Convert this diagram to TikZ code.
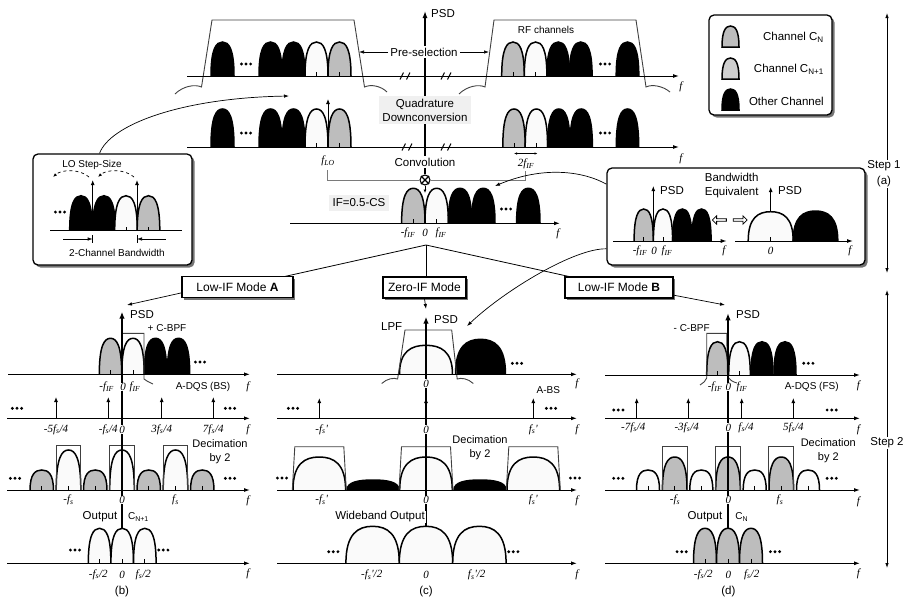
\documentclass[tikz,border=0pt]{standalone}
\usepackage{fontspec}
\setmainfont{Liberation Sans}
\newfontfamily\tnr{Liberation Serif}
\usepackage{tikz}
\usetikzlibrary{arrows.meta,shadows,shapes.arrows}
\definecolor{chgray}{HTML}{BDBDBD}
\definecolor{chpale}{HTML}{FAFAFA}
\definecolor{chlight}{HTML}{CFCFCF}
\definecolor{tagbg}{HTML}{F0F0F0}
\definecolor{midgray}{HTML}{7A7A7A}
\newcommand{\fv}[2]{{\tnr\itshape #1\textsubscript{#2}}}
\newcommand{\lobe}[5]{\draw[lobeline,fill=#5] (#1-#3,#2) .. controls (#1-#3,#2-0.8*#4) and (#1-0.55*#3,#2-#4) .. (#1,#2-#4) .. controls (#1+0.55*#3,#2-#4) and (#1+#3,#2-0.8*#4) .. (#1+#3,#2);}
\newcommand{\tlobe}[5]{\lobe{#1}{#2}{#3}{#4}{#5}\draw[line width=0.7pt] (#1,#2) -- (#1,#2-4);}
\newcommand{\dotz}[2]{\foreach \k in {-4.6,0,4.6} \fill (#1+\k,#2) circle (1.6);}
\newcommand{\brk}[2]{\draw[line width=1pt] (#1-5,#2+3.5) -- (#1-1.5,#2-3.5) (#1+1.5,#2+3.5) -- (#1+5,#2-3.5);}
\newcommand{\legicon}[3]{\draw[lobeline,fill=#3] (#1-8.5,#2) .. controls (#1-8.5,#2-16) and (#1-5,#2-21) .. (#1,#2-21) .. controls (#1+5,#2-21) and (#1+8.5,#2-16) .. (#1+8.5,#2) -- cycle;}

\begin{document}
\begin{tikzpicture}[x=1pt,y=-1pt,
  lobeline/.style={line width=1.5pt},
  ax/.style={line width=1pt,-{Latex[length=6pt,width=4pt]}},
  imp/.style={line width=1pt,-{Latex[length=5pt,width=4pt]}},
  zaxis/.style={line width=1.8pt,-{Latex[length=7pt,width=5.5pt]}},
  arr/.style={line width=0.7pt,-{Latex[length=5pt,width=3.5pt]}},
  twoway/.style={line width=0.8pt,{Latex[length=5pt,width=3.5pt]}-{Latex[length=5pt,width=3.5pt]}},
  filt/.style={line width=0.9pt,draw=black!75},
  lab/.style={font=\fontsize{11.5}{14}\selectfont,inner sep=1pt},
  slab/.style={font=\fontsize{10}{12}\selectfont,inner sep=1pt},
  flab/.style={font=\tnr\itshape\fontsize{11}{12}\selectfont,inner sep=0.5pt},
  modebox/.style={draw,line width=1.6pt,fill=white,minimum height=21pt,inner sep=0pt,
    font=\fontsize{12}{14}\selectfont,drop shadow={shadow xshift=2pt,shadow yshift=-2pt,fill=black!55,opacity=1}},
  panelbox/.style={draw,line width=1.3pt,rounded corners=5pt,fill=white,
    drop shadow={shadow xshift=2.5pt,shadow yshift=-2.5pt,fill=black!55,opacity=1}},
  hollow/.style={single arrow,draw,line width=0.8pt,minimum height=14pt,minimum width=8.5pt,
    single arrow head extend=2pt,inner sep=0.5pt}
]
\useasboundingbox (0,0) rectangle (910,600);

% legend
\node[panelbox,minimum width=123pt,minimum height=100pt] (legend) at (770.5,65) {};
\legicon{730.5}{47}{chgray}
\legicon{730.5}{79}{chlight}
\legicon{730.5}{110}{black}
\node[lab,anchor=east] (legcn) at (825,37) {Channel C\textsubscript{N}};
\node[lab,anchor=east] (legcn1) at (825,69) {Channel C\textsubscript{N+1}};
\node[lab,anchor=east] (legoth) at (825,101) {Other Channel};

% step arrows
\coordinate (s1a) at (887,13); \coordinate (s1b) at (887,273);
\coordinate (s2a) at (887,290); \coordinate (s2b) at (887,568);
\draw[twoway] (s1a) -- (s1b);
\draw[twoway] (s2a) -- (s2b);
\node[lab,fill=white,align=center,font=\fontsize{11.5}{16}\selectfont] (step1) at (884,174) {Step 1\\(a)};
\node[lab,fill=white] (step2) at (887,443) {Step 2};

% RF spectrum with pre-selection
\foreach \c in {222.5,270.5,293.5} {\lobe{\c}{76}{11.5}{34}{black}}
\tlobe{316.5}{76}{11.5}{34}{chpale}
\tlobe{339.5}{76}{11.5}{34}{chgray}
\tlobe{513}{76}{11.3}{34}{chgray}
\tlobe{535.6}{76}{11.3}{34}{chpale}
\foreach \c in {558.2,580.8,627.5} {\lobe{\c}{76}{11.3}{34}{black}}
\dotz{246}{64} \dotz{605}{64}
\draw[filt] (175,94) .. controls (183,86) and (195,84) .. (201.5,87) -- (212,20) -- (354,20) -- (364.5,87) .. controls (371,84) and (381,86) .. (387,92);
\draw[filt] (459,94) .. controls (467,86) and (479,84) .. (485,87) -- (494,20) -- (636,20) -- (646,87) .. controls (652,84) and (663,86) .. (670,92);
\draw[ax] (187,76) -- (679,76);
\brk{405}{76} \brk{446}{76}

% down-converted spectrum
\foreach \c in {222.5,270.5,293.5} {\lobe{\c}{147}{11.5}{38}{black}}
\tlobe{316.5}{147}{11.5}{38}{chpale}
\tlobe{339.5}{147}{11.5}{38}{chgray}
\tlobe{514}{147}{11.2}{38}{chgray}
\tlobe{536.4}{147}{11.2}{38}{chpale}
\foreach \c in {558.8,581.2,627.5} {\lobe{\c}{147}{11.2}{38}{black}}
\dotz{246}{133} \dotz{605}{133}
\draw[ax] (187,147) -- (679,147);
\brk{407}{147} \brk{446}{147}
\coordinate (lotop) at (328,99);
\draw[imp,line width=0.8pt] (328,147) -- (lotop);

% centre line and convolution
\node[circle,draw,line width=1.1pt,fill=white,minimum size=10pt,inner sep=0pt] (conv) at (425,180) {};
\draw[line width=1.1pt] (conv.45) -- (conv.225) (conv.135) -- (conv.315);
\coordinate (psdtop) at (425,11);
\draw[line width=1.3pt,-{Latex[length=7pt,width=5pt]}] (conv) -- (psdtop);
\draw[midgray,line width=0.8pt] (327.5,170) -- (327.5,180) -- (conv.west) (conv.east) -- (525.7,180) -- (525.7,171);
\coordinate (ifin) at (425,193);
\draw[line width=0.8pt,-{Latex[length=3.5pt,width=3pt]}] (conv) -- (ifin);
\node[lab,anchor=west] (psdrf) at (430,14) {PSD};
\node[lab,fill=white,inner sep=2pt] (presel) at (424,52) {Pre-selection};
\coordinate (presl) at (359,52); \coordinate (presr) at (489,52);
\draw[arr] (presel) -- (presl);
\draw[arr] (presel) -- (presr);
\node[slab] (rfch) at (546,30) {RF channels};
\node[flab] (frf) at (681,87) {f};
\node[lab,fill=tagbg,align=center,inner sep=3pt] (quad) at (425,110) {Quadrature\\Downconversion};
\node[lab,fill=white,inner sep=1.5pt] (convl) at (425,162) {Convolution};
\node[flab] (flo) at (328,161) {\fv{f}{LO}};
\node[flab] (f2if) at (526,164) {2\fv{f}{IF}};
\coordinate (dl) at (514,153.5); \coordinate (dr) at (537.5,153.5);
\draw[line width=0.6pt,{Latex[length=3pt,width=2.5pt]}-{Latex[length=3pt,width=2.5pt]}] (dl) -- (dr);
\node[flab] (fdc) at (681,159) {f};

% IF spectrum
\tlobe{413.3}{223.3}{11.7}{35}{chgray}
\tlobe{436.7}{223.3}{11.7}{35}{chpale}
\foreach \c in {460,483.3,528.3} {\lobe{\c}{223.3}{11.7}{35}{black}}
\dotz{506}{209}
\draw[ax] (290,223.3) -- (560,223.3);
\node[flab] (ifm) at (408,233) {-\fv{f}{IF}};
\node[flab] (if0) at (425,233) {0};
\node[flab] (ifp) at (441,233) {\fv{f}{IF}};
\node[flab] (fif) at (558,234) {f};
\node[lab,fill=tagbg,inner sep=4pt] (ifcs) at (359,203) {IF=0.5-CS};

% LO step-size box
\node[panelbox,minimum width=159pt,minimum height=111pt] (lobox) at (112.5,209.5) {};
\node[slab] (lostep) at (92,165) {LO Step-Size};
\lobe{81}{230.7}{11.3}{35}{black}
\lobe{104}{230.7}{11.3}{35}{black}
\tlobe{126}{230.7}{11.3}{35}{chpale}
\tlobe{148.5}{230.7}{11.3}{35}{chgray}
\dotz{60}{212}
\draw[line width=0.9pt] (50,230.7) -- (182,230.7);
\draw[imp] (92.7,230.7) -- (92.7,180);
\draw[imp] (137,230.7) -- (137,180);
\draw[dashed,line width=0.7pt,-{Latex[length=4pt,width=3pt]}] (89,177) .. controls (80,169) and (62,169) .. (53,177);
\draw[dashed,line width=0.7pt,-{Latex[length=4pt,width=3pt]}] (134,177) .. controls (125,169) and (107,169) .. (98,177);
\draw[arr] (63,239) -- (92.7,239);
\draw[arr] (165.7,239) -- (137,239);
\draw[line width=0.8pt] (92.7,235) -- (92.7,243) (137,235) -- (137,243);
\node[slab] (twoch) at (117,253) {2-Channel Bandwidth};
\coordinate (lotip) at (289,96);
\draw[arr] (lobox.103) .. controls (110,125) and (180,98) .. (lotip);

% bandwidth equivalent box
\node[panelbox,minimum width=258pt,minimum height=97pt] (bwbox) at (736,216.5) {};
\node[lab,align=center] (bweq) at (731.7,186) {Bandwidth\\Equivalent};
\tlobe{643.7}{241}{9.6}{32}{chgray}
\tlobe{663}{241}{9.6}{32}{chpale}
\lobe{682.3}{241}{9.6}{32}{black}
\lobe{701.5}{241}{9.6}{32}{black}
\draw[ax] (613,241) -- (726.7,241);
\draw[imp] (653.3,241) -- (653.3,186);
\node[lab,anchor=west] (psdbw1) at (659,191) {PSD};
\node[flab] (bwm) at (640,251) {-\fv{f}{IF}};
\node[flab] (bw0) at (654,251) {0};
\node[flab] (bwp) at (667,251) {\fv{f}{IF}};
\node[flab] (fbw1) at (724,251) {f};
\node[hollow,shape border rotate=180] (hl) at (720,220) {};
\node[hollow] (hr) at (739.5,220) {};
\tlobe{770.7}{241}{22.5}{29.3}{chpale}
\lobe{815.5}{241}{22.3}{30}{black}
\draw[ax] (735,241) -- (853,241);
\draw[imp] (770.7,211.7) -- (770.7,187);
\node[lab,anchor=west] (psdbw2) at (777,191) {PSD};
\node[flab] (bw0b) at (770.7,251) {0};
\node[flab] (fbw2) at (850,251) {f};
\coordinate (iftip) at (495,186);
\draw[arr] (bwbox.166) .. controls (585,172) and (545,165) .. (iftip);
\coordinate (zctip) at (467,326);
\draw[arr] (bwbox.194) .. controls (575,248) and (505,290) .. (zctip);

% mode selection
\coordinate (split) at (426,245);
\draw[line width=0.8pt] (237.5,287) -- (split) -- (619,287.5);
\draw[line width=0.8pt] (split) -- (426,287);
\node[modebox,minimum width=111pt] (modeA) at (237.5,287) {Low-IF Mode \textbf{A}};
\node[modebox,minimum width=83pt] (modeZ) at (424.5,287.5) {Zero-IF Mode};
\node[modebox,minimum width=108pt] (modeB) at (619,287.5) {Low-IF Mode \textbf{B}};
\coordinate (tipA) at (127,305);
\coordinate (tipZ) at (426,309);
\coordinate (tipB) at (725,305);
\draw[arr] (modeA.186) -- (tipA);
\draw[arr] (modeZ.south) -- (tipZ);
\draw[arr] (modeB.-8) -- (tipB);

% (b) low-IF mode A
\tlobe{110.5}{374.3}{11.2}{36}{chgray}
\tlobe{133}{374.3}{11.2}{36}{chpale}
\lobe{155.5}{374.3}{11.2}{36}{black}
\lobe{178.5}{374.3}{11.2}{36}{black}
\dotz{200}{362}
\draw[filt] (121.7,374.3) -- (121.7,333.3) -- (144,333.3) -- (144,379) .. controls (146,381) and (149,382) .. (153,384);
\draw[ax] (8,374.3) -- (250,374.3);
\foreach \x in {56,108.3,161.7,213.3} {\draw[imp] (\x,418.3) -- (\x,397);}
\dotz{17}{408.3} \dotz{230}{408.3}
\draw[ax] (7,418.3) -- (250,418.3);
\foreach \c in {41.75,95.25,148.75,202.25} {\tlobe{\c}{490}{11.7}{20}{chgray}}
\foreach \c in {68.5,122,175.5} {\tlobe{\c}{490}{12.3}{40}{chpale}
  \draw[filt] (\c-12.3,490) -- (\c-12.3,445.5) -- (\c+12.3,445.5) -- (\c+12.3,490);}
\dotz{15}{478.3} \dotz{230}{478.3}
\draw[ax] (7,490) -- (250,490);
\foreach \c in {99.6,122.2,144.8} {\tlobe{\c}{563.3}{11.3}{35}{chpale}}
\dotz{75}{550} \dotz{163.3}{550}
\draw[ax] (7,563.3) -- (250,563.3);
\coordinate (psdA) at (122,311.7);
\draw[zaxis] (122,528.5) -- (psdA);
\node[lab,anchor=west] (psdAl) at (129,315) {PSD};
\node[slab] (cbpfA) at (167,328) {+ C-BPF};
\node[flab] (bA1) at (106.7,387) {-\fv{f}{IF}};
\node[flab,fill=white] (bA0) at (123,387) {0};
\node[flab] (bA2) at (135,387) {\fv{f}{IF}};
\node[slab] (dqsA) at (203,387) {A-DQS (BS)};
\node[flab] (fA1) at (248,387) {f};
\node[flab] (iA1) at (56,429.5) {-5\fv{f}{s}/4};
\node[flab] (iA2) at (108.3,429.5) {-\fv{f}{s}/4};
\node[flab,fill=white] (iA0) at (122,429.5) {0};
\node[flab] (iA3) at (161.7,429.5) {3\fv{f}{s}/4};
\node[flab] (iA4) at (213.3,429.5) {7\fv{f}{s}/4};
\node[flab] (fA2) at (248,430) {f};
\node[lab,align=center,font=\fontsize{11}{14}\selectfont] (decA) at (220,452) {Decimation\\by 2};
\node[flab] (dA1) at (68.5,500) {-\fv{f}{s}};
\node[flab,fill=white] (dA0) at (122,500) {0};
\node[flab] (dA2) at (175.5,500) {\fv{f}{s}};
\node[flab] (fA3) at (248,501) {f};
\node[lab] (outA) at (100,517) {Output};
\node[slab] (cnA) at (138.5,517) {C\textsubscript{N+1}};
\node[flab] (oA1) at (98.3,574.5) {-\fv{f}{s}/2};
\node[flab] (oA0) at (122,574.5) {0};
\node[flab] (oA2) at (143.3,574.5) {\fv{f}{s}/2};
\node[flab] (fA4) at (248,574) {f};
\node[lab] (capb) at (122,592) {(b)};

% (c) zero-IF mode
\tlobe{426}{374.3}{26.5}{29}{chpale}
\lobe{480.5}{374.3}{25}{35}{black}
\dotz{517}{363.3}
\draw[filt] (381.7,383.5) .. controls (387,378.5) and (394,377.5) .. (397.6,379) -- (405,330) -- (451.7,330) -- (457.2,379) .. controls (461,377.5) and (468,378.5) .. (473.3,383.5);
\draw[ax] (277,374.3) -- (577,374.3);
\foreach \x in {319.3,426,533.3} {\draw[imp] (\x,418.3) -- (\x,398);}
\dotz{293}{408.3} \dotz{551}{408.3}
\draw[ax] (277,418.3) -- (577,418.3);
\foreach \c in {373,480} {\lobe{\c}{490}{26}{10}{black}}
\foreach \c in {319.3,426,533.3} {\lobe{\c}{490}{26.3}{33}{chpale}
  \draw[filt] (\c-27,490) -- (\c-24.5,446.7) -- (\c+24.5,446.7) -- (\c+27,490);}
\dotz{282}{478} \dotz{575}{478}
\draw[ax] (277,490) -- (577,490);
\foreach \c in {372.6,426,479.4} {\lobe{\c}{563.3}{26.7}{37}{chpale}}
\dotz{333.3}{551.7} \dotz{513.3}{551.7}
\draw[ax] (277,563.3) -- (577,563.3);
\coordinate (psdZ) at (426,316.7);
\draw[zaxis] (426,526.5) -- (psdZ);
\node[lab,anchor=west] (psdZl) at (433,320) {PSD};
\node[lab] (lpf) at (391.7,326.7) {LPF};
\node[flab,fill=white] (cZ0) at (426,383.5) {0};
\node[slab] (abs) at (548.3,390) {A-BS};
\node[flab] (fZ1) at (577,384) {f};
\node[flab] (iZ1) at (321.7,429.5) {-\fv{f}{s}'};
\node[flab,fill=white] (iZ0) at (426,429.5) {0};
\node[flab] (iZ2) at (533.3,429.5) {\fv{f}{s}'};
\node[flab] (fZ2) at (577,430) {f};
\node[lab,align=center,font=\fontsize{11}{14}\selectfont] (decZ) at (480,448) {Decimation\\by 2};
\node[flab] (dZ1) at (321.7,500) {-\fv{f}{s}'};
\node[flab,fill=white] (dZ0) at (426,500) {0};
\node[flab] (dZ2) at (533.3,500) {\fv{f}{s}'};
\node[flab] (fZ3) at (577,501) {f};
\node[lab,fill=white] (wide) at (380,517) {Wideband Output};
\node[flab] (oZ1) at (371.7,575) {-\fv{f}{s}'/2};
\node[flab] (oZ0) at (426,575) {0};
\node[flab] (oZ2) at (476.7,575) {\fv{f}{s}'/2};
\node[flab] (fZ4) at (577,575) {f};
\node[lab] (capc) at (426,592) {(c)};

% (d) low-IF mode B
\tlobe{717.5}{375}{10.8}{33.3}{chgray}
\tlobe{739.5}{375}{10.8}{33.3}{chpale}
\lobe{762}{375}{11}{33.3}{black}
\lobe{785}{375}{11}{33.3}{black}
\dotz{808.3}{363.3}
\draw[filt] (700,385) .. controls (703,383) and (706,381) .. (706.7,378) -- (706.7,333.3) -- (726.7,333.3) -- (727.5,376) .. controls (729.5,380) and (733,382) .. (737,383);
\draw[ax] (605,375) -- (860,375);
\foreach \x in {636.7,688.3,741.7,793.3} {\draw[imp] (\x,418.3) -- (\x,398);}
\dotz{618.3}{410} \dotz{831.7}{410}
\draw[ax] (605,418.3) -- (860,418.3);
\foreach \c in {648,701.3,754.7,808} {\tlobe{\c}{490}{11.5}{20}{chpale}}
\foreach \c in {674.7,728,781.3} {\tlobe{\c}{490}{12.3}{33}{chgray}
  \draw[filt] (\c-12.5,490) -- (\c-12.5,446.7) -- (\c+12.5,446.7) -- (\c+12.5,490);}
\dotz{618.3}{478.3} \dotz{831.7}{478.3}
\draw[ax] (605,490) -- (860,490);
\foreach \c in {705,728,751} {\tlobe{\c}{563.3}{11.5}{35}{chgray}}
\dotz{681.7}{551.7} \dotz{775}{551.7}
\draw[ax] (605,563.3) -- (860,563.3);
\coordinate (psdB) at (728,313.3);
\draw[zaxis] (728,528.3) -- (psdB);
\node[lab,anchor=west] (psdBl) at (735,315) {PSD};
\node[slab] (cbpfB) at (691.7,328) {- C-BPF};
\node[flab] (bB1) at (715,387) {-\fv{f}{IF}};
\node[flab,fill=white] (bB0) at (728.3,387) {0};
\node[flab] (bB2) at (742,387) {\fv{f}{IF}};
\node[slab] (dqsB) at (811.7,387) {A-DQS (FS)};
\node[flab] (fB1) at (858.3,386) {f};
\node[flab] (iB1) at (633.3,427.5) {-7\fv{f}{s}/4};
\node[flab] (iB2) at (686.7,427.5) {-3\fv{f}{s}/4};
\node[flab,fill=white] (iB0) at (728.3,427.5) {0};
\node[flab] (iB3) at (746,427.5) {\fv{f}{s}/4};
\node[flab] (iB4) at (793.3,427.5) {5\fv{f}{s}/4};
\node[flab] (fB2) at (858.3,430) {f};
\node[lab,align=center,font=\fontsize{11}{14}\selectfont] (decB) at (828.3,451) {Decimation\\by 2};
\node[flab] (dB1) at (675,500) {-\fv{f}{s}};
\node[flab,fill=white] (dB0) at (728.3,500) {0};
\node[flab] (dB2) at (780,500) {\fv{f}{s}};
\node[flab] (fB3) at (858.3,502) {f};
\node[lab] (outB) at (705,517) {Output};
\node[slab] (cnB) at (741.7,517) {C\textsubscript{N}};
\node[flab] (oB1) at (703.3,574.5) {-\fv{f}{s}/2};
\node[flab] (oB0) at (728.3,574.5) {0};
\node[flab] (oB2) at (751.7,574.5) {\fv{f}{s}/2};
\node[flab] (fB4) at (858.3,574) {f};
\node[lab] (capd) at (728.3,592) {(d)};
\end{tikzpicture}
\end{document}
